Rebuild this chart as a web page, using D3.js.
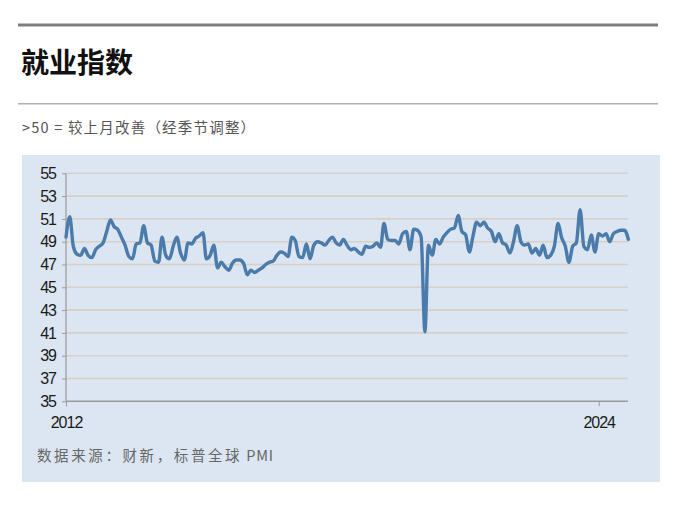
<!DOCTYPE html>
<html><head><meta charset="utf-8">
<script src="https://cdn.jsdelivr.net/npm/d3@7"></script>
<style>
html,body{margin:0;padding:0;background:#fff;}
svg{display:block;}
</style></head>
<body>
<svg id="c" width="680" height="513"></svg>
<script>
const title = "就业指数";
const subtitle = ">50 = 较上月改善（经季节调整）";
const sourceCJK = "数据来源：财新，标普全球";
const sourceLatin = " PMI";
const startYear = 2012, startMonth = 0; // Jan 2012
const employment = [
49.4,51.2,48.6,47.9,47.8,48.4,47.8,47.6,48.3,48.6,48.9,49.9,
50.9,50.3,50.1,49.4,48.7,47.7,47.5,48.8,48.9,50.4,48.9,48.7,
47.3,47.2,49.4,47.8,47.5,48.6,49.4,48.0,47.4,48.9,48.8,49.3,
49.5,49.8,47.5,47.8,48.7,46.7,47.2,46.8,46.5,47.1,47.4,47.4,
47.1,46.1,46.5,46.3,46.5,46.7,47.0,47.2,47.3,47.8,48.1,48.0,
47.7,49.4,49.1,47.7,47.6,48.8,47.5,48.7,49.0,48.9,48.7,49.1,
49.4,48.9,48.7,49.2,48.7,48.3,48.4,48.1,47.9,48.6,48.5,48.6,
48.9,48.5,50.6,49.2,49.1,49.1,48.8,49.7,49.9,48.3,50.1,50.0,
49.4,41.1,48.7,47.8,49.2,48.8,49.4,49.8,50.1,50.2,51.3,49.9,
49.6,48.1,49.4,50.7,50.4,50.7,50.2,49.9,49.0,49.7,48.9,48.7,
48.0,49.1,50.4,49.0,48.7,48.8,48.0,48.4,47.8,48.7,47.6,47.8,
48.6,50.6,49.4,48.6,47.2,48.6,48.9,51.8,48.6,48.3,49.6,48.1,
49.7,49.5,49.7,49.0,49.7,49.9,50.0,50.0,49.2
];
const yTicks = [35,37,39,41,43,45,47,49,51,53,55];
const xTickYears = [2012, 2024];

const data = employment.map((v,i)=>({date:new Date(startYear, startMonth+i, 1), value:v}));

const svg = d3.select("#c");

// top rules
svg.append("rect").attr("x",18).attr("y",23.5).attr("width",640).attr("height",3).attr("fill","#7f7f7f");
svg.append("rect").attr("x",18).attr("y",103).attr("width",640).attr("height",1.5).attr("fill","#b0b0b0");

svg.append("text").attr("x",21).attr("y",73)
  .attr("font-family","'Noto Sans CJK SC'").attr("font-weight","bold").attr("font-size",28)
  .attr("fill","#111").text(title);

svg.append("text").attr("x",22).attr("y",133)
  .attr("font-family","'Noto Sans CJK SC'").attr("font-size",14.5).attr("letter-spacing","1.2px")
  .attr("fill","#555").text(subtitle);

// panel
svg.append("rect").attr("x",22).attr("y",155).attr("width",638).attr("height",327).attr("fill","#dce6f2");

const x = d3.scaleTime().domain([new Date(2012,0,1), new Date(2024,0,1)]).range([66, 598.7]);
const y = d3.scaleLinear().domain([35,55]).range([401.3,173.3]);
const xEnd = 628;

// gridlines
svg.append("g").selectAll("line").data(yTicks.filter(t=>t>35)).join("line")
  .attr("x1",66).attr("x2",xEnd).attr("y1",d=>y(d)).attr("y2",d=>y(d))
  .attr("stroke","#d6d0c8").attr("stroke-width",1.6);

// y axis
const yAxis = d3.axisLeft(y).tickValues(yTicks).tickSize(4).tickPadding(6).tickFormat(d3.format("d"));
const gy = svg.append("g").attr("transform","translate(66,0)").call(yAxis);
gy.select(".domain").remove();
gy.append("line").attr("x1",0).attr("x2",0).attr("y1",y(55)).attr("y2",y(35)).attr("stroke","#9a9a9a").attr("stroke-width",1.2);
gy.selectAll(".tick line").attr("stroke","#9a9a9a");
gy.selectAll(".tick text").attr("font-family","'Liberation Sans', Arial, sans-serif").attr("font-size",16)
  .attr("letter-spacing","-1px").attr("fill","#1a1a1a");

// x axis
const xAxis = d3.axisBottom(x).tickValues(xTickYears.map(yr=>new Date(yr,0,1))).tickSize(5).tickPadding(10)
  .tickFormat(d3.timeFormat("%Y"));
const gx = svg.append("g").attr("transform",`translate(0,${y(35)})`).call(xAxis);
gx.select(".domain").remove();
gx.append("line").attr("x1",66).attr("x2",xEnd).attr("y1",0).attr("y2",0).attr("stroke","#9a9a9a").attr("stroke-width",1.5);
gx.selectAll(".tick line").attr("stroke","#9a9a9a");
gx.selectAll(".tick text").attr("font-family","'Liberation Sans', Arial, sans-serif").attr("font-size",16)
  .attr("letter-spacing","-1px").attr("fill","#1a1a1a");

// line
const line = d3.line().x(d=>x(d.date)).y(d=>y(d.value)).curve(d3.curveMonotoneX);
svg.append("path").datum(data).attr("d",line).attr("fill","none")
  .attr("stroke","#4a7bab").attr("stroke-width",3.4).attr("stroke-linejoin","round").attr("stroke-linecap","round");

const src = svg.append("text").attr("x",37).attr("y",461)
  .attr("font-family","'Noto Sans CJK SC'").attr("font-size",14.5).attr("fill","#666");
src.append("tspan").attr("letter-spacing","2.6px").text(sourceCJK);
src.append("tspan").attr("letter-spacing","0.8px").text(sourceLatin);
</script>
</body></html>
